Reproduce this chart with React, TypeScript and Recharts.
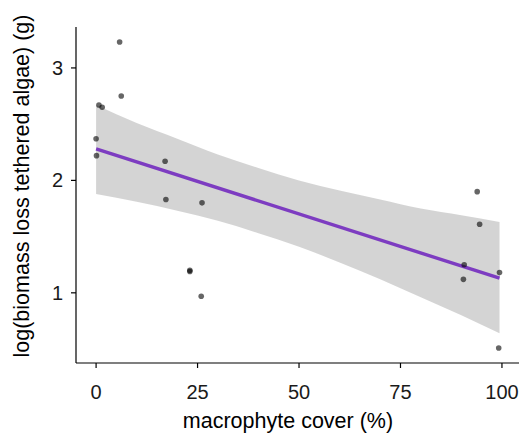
import React from 'react';
import {
  ComposedChart,
  Area,
  Line,
  Scatter,
  XAxis,
  YAxis,
} from 'recharts';

// observed points (macrophyte cover %, log biomass loss)
const coverPts = [5.8, 6.2, 0.7, 1.5, 0, 0.1, 17.0, 17.2, 26.1, 23.1, 23.1, 25.9, 93.9, 94.5, 90.7, 90.5, 99.4, 99.2];
const lossPts = [3.23, 2.75, 2.67, 2.65, 2.37, 2.22, 2.17, 1.83, 1.80, 1.20, 1.19, 0.97, 1.90, 1.61, 1.25, 1.12, 1.18, 0.51];

// fitted line + confidence band
const bandX = [0, 10, 20, 30, 40, 50, 60, 70, 80, 90, 99.4];
const bandLow = [1.88, 1.81, 1.73, 1.64, 1.53, 1.41, 1.27, 1.12, 0.96, 0.80, 0.64];
const bandHigh = [2.67, 2.51, 2.37, 2.23, 2.11, 2.00, 1.91, 1.83, 1.75, 1.69, 1.63];
const fitX = [0, 99.4];
const fitY = [2.28, 1.13];

const xTicks = [0, 25, 50, 75, 100];
const yTicks = [1, 2, 3];

const bandRows = bandX.map((x, i) => ({
  x,
  band: [bandLow[i], bandHigh[i]],
  fit: fitX.indexOf(x) >= 0 ? fitY[fitX.indexOf(x)] : null,
}));
const points = coverPts.map((x, i) => ({ x, y: lossPts[i] }));

const FONT = 'Liberation Sans, Arial, sans-serif';

const Dot = (props: any) => (
  <circle cx={props.cx} cy={props.cy} r={2.8} fill="#000" fillOpacity={0.6} />
);

// x tick label, centred about 28px below the axis line
const XTick = (props: any) => (
  <text x={props.x} y={392} textAnchor="middle" dominantBaseline="central" fontSize={20} fontFamily={FONT} fill="#1a1a1a">
    {props.payload.value}
  </text>
);

const XTitle = () => (
  <text x={288} y={421} textAnchor="middle" dominantBaseline="central" fontSize={21.5} fontFamily={FONT} fill="#000">
    macrophyte cover (%)
  </text>
);

const YTitle = () => (
  <text
    x={22}
    y={186}
    transform="rotate(-90 22 186)"
    textAnchor="middle"
    dominantBaseline="central"
    fontSize={21.5}
    fontFamily={FONT}
    fill="#000"
  >
    log(biomass loss tethered algae) (g)
  </text>
);

export default function App() {
  return (
    <div style={{ position: 'absolute', left: 0, top: 0, width: 524, height: 438, background: '#fff' }}>
      <ComposedChart
        width={524}
        height={438}
        data={bandRows}
        margin={{ top: 27, right: 5, bottom: 0, left: 0 }}
      >
        <XAxis
          dataKey="x"
          type="number"
          domain={[-4.95, 104.2]}
          ticks={xTicks}
          allowDataOverflow
          height={75}
          tickSize={5}
          stroke="#000"
          strokeWidth={1.2}
          tick={XTick}
          label={{ content: XTitle }}
        />
        <YAxis
          type="number"
          domain={[0.376, 3.364]}
          ticks={yTicks}
          allowDataOverflow
          width={76}
          tickSize={5}
          tickMargin={8}
          stroke="#000"
          strokeWidth={1.2}
          tick={{ fill: '#1a1a1a', fontSize: 20, fontFamily: FONT }}
          label={{ content: YTitle }}
        />
        <Area
          dataKey="band"
          type="monotone"
          stroke="none"
          fill="#999999"
          fillOpacity={0.42}
          isAnimationActive={false}
        />
        <Line
          dataKey="fit"
          type="linear"
          stroke="#7D3CC1"
          strokeWidth={3.4}
          dot={false}
          connectNulls
          isAnimationActive={false}
        />
        <Scatter data={points} dataKey="y" shape={Dot} isAnimationActive={false} />
      </ComposedChart>
    </div>
  );
}
